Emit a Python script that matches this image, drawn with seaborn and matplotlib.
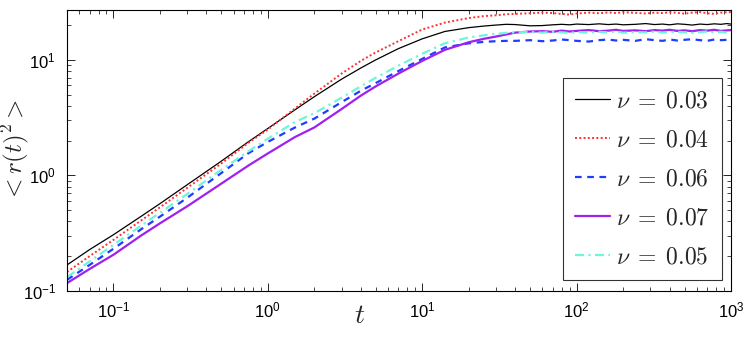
import matplotlib
matplotlib.use("Agg")
import matplotlib.pyplot as plt
import seaborn as sns
import pandas as pd

t = [0.05, 0.07, 0.1, 0.15, 0.2, 0.3, 0.5, 0.75, 1.0, 1.5, 2.0, 3.0, 4.0, 5.0, 7.0,
     10, 14, 20, 25, 30, 35, 40, 50, 60, 70, 80, 90, 100, 120, 140, 160, 180, 200,
     240, 280, 320, 360, 400, 450, 500, 560, 630, 700, 780, 860, 940, 1000]

nu_003 = [0.168, 0.228, 0.307, 0.44, 0.57, 0.83, 1.33, 1.96, 2.55, 3.7, 4.8, 6.8, 8.5, 10.0, 12.5,
          15.2, 17.6, 19.0, 19.6, 20.0, 20.3, 20.2, 19.7, 19.8, 20.1, 20.3, 20.1, 20.4, 20.2, 20.5, 20.2, 20.4, 20.1,
          20.3, 20.6, 20.2, 20.4, 20.1, 20.5, 20.3, 20.0, 20.4, 20.2, 20.5, 20.3, 20.6, 20.4]
nu_004 = [0.146, 0.2, 0.277, 0.405, 0.53, 0.78, 1.27, 1.92, 2.5, 3.8, 5.1, 7.6, 9.8, 11.6, 14.5,
          18.3, 21.0, 23.0, 23.9, 24.3, 24.8, 25.0, 25.3, 25.6, 25.4, 25.0, 24.6, 25.2, 25.6, 25.3, 25.7, 25.4, 25.8,
          25.5, 25.2, 25.6, 25.4, 25.8, 25.5, 25.1, 25.6, 25.9, 25.3, 25.0, 25.6, 25.8, 25.9]
nu_006 = [0.125, 0.168, 0.232, 0.34, 0.44, 0.64, 1.05, 1.56, 1.95, 2.6, 3.1, 4.3, 5.4, 6.3, 8.0,
          10.2, 12.8, 13.9, 14.3, 14.5, 14.6, 14.6, 14.8, 14.5, 14.7, 15.0, 14.8, 14.6, 14.4, 14.8, 15.0, 14.7, 14.9,
          14.6, 15.1, 14.8, 14.6, 15.0, 14.7, 14.9, 15.1, 14.8, 14.6, 15.0, 14.8, 14.9, 15.1]
nu_007 = [0.117, 0.155, 0.206, 0.3, 0.385, 0.54, 0.85, 1.22, 1.55, 2.15, 2.6, 3.75, 4.9, 5.9, 7.6,
          9.8, 12.2, 14.2, 15.2, 15.9, 16.6, 17.2, 17.6, 17.7, 17.5, 17.9, 17.6, 17.8, 18.1, 17.7, 17.9, 18.2, 17.8,
          18.0, 17.7, 18.1, 17.9, 18.2, 17.8, 18.0, 17.7, 18.1, 17.9, 18.2, 17.8, 18.0, 18.1]
nu_005 = [0.132, 0.18, 0.251, 0.365, 0.475, 0.69, 1.12, 1.62, 2.08, 2.9, 3.45, 4.7, 5.9, 7.0, 8.9,
          11.3, 13.9, 15.6, 16.3, 16.8, 17.1, 17.3, 17.4, 17.2, 17.5, 17.3, 17.1, 17.4, 17.2, 17.5, 17.3, 17.6, 17.2,
          17.4, 17.3, 17.6, 17.2, 17.4, 17.5, 17.3, 17.1, 17.4, 17.6, 17.3, 17.5, 17.2, 17.4]

labels = [r"$\nu\;=\;0.03$", r"$\nu\;=\;0.04$", r"$\nu\;=\;0.06$", r"$\nu\;=\;0.07$", r"$\nu\;=\;0.05$"]
series = [nu_003, nu_004, nu_006, nu_007, nu_005]

sns.set_style("ticks")
plt.rcParams["font.family"] = ["Liberation Sans", "DejaVu Sans"]
plt.rcParams["mathtext.fontset"] = "cm"
plt.rcParams["xtick.direction"] = "in"
plt.rcParams["ytick.direction"] = "in"

styles = [
    dict(color="black", linestyle="-", linewidth=0.9),
    dict(color="#ff3030", linestyle=(0, (1, 1.2)), linewidth=1.4),
    dict(color="#1f3cff", linestyle=(0, (3, 2.5)), linewidth=1.6),
    dict(color="#a020f0", linestyle="-", linewidth=1.6),
    dict(color="#6ff5d8", linestyle=(0, (4, 2, 1, 2)), linewidth=1.6),
]

frames = []
for lab, vals in zip(labels, series):
    frames.append(pd.DataFrame({"t": t, "msd": vals, "nu": lab}))
df = pd.concat(frames, ignore_index=True)

fig = plt.figure(figsize=(7.47, 3.4), dpi=100)
ax = fig.add_axes([67 / 747, 1 - 291 / 340, 664 / 747, 281 / 340])

for lab, st in zip(labels, styles):
    sub = df[df["nu"] == lab]
    sns.lineplot(data=sub, x="t", y="msd", ax=ax, label=lab, **st)

ax.set_xscale("log")
ax.set_yscale("log")
ax.set_xlim(0.05, 1000)
ax.set_ylim(0.1, 27)

for s in ax.spines.values():
    s.set_visible(True)
    s.set_linewidth(0.8)
    s.set_color("black")

ax.tick_params(which="both", top=True, right=True, direction="in", labelsize=12, colors="black")
ax.tick_params(which="major", length=6, width=0.6)
ax.tick_params(which="minor", length=3, width=0.5)
ax.tick_params(axis="x", which="major", pad=7)
ax.tick_params(axis="y", which="major", pad=8)

ax.set_xlabel(r"$t$", fontsize=20)
ax.set_ylabel(r"$<r(t)^2>$", fontsize=18)
ax.xaxis.set_label_coords((360 - 67) / 664, (291 - 303) / 281)
ax.yaxis.set_label_coords((31 - 67) / 664, 0.5)

leg = ax.legend(loc="lower left", bbox_to_anchor=((563 - 67) / 664, (291 - 280) / 281, 159 / 664, 0.5),
                mode="expand", borderaxespad=0,
                fontsize=17, handlelength=1.5, handletextpad=0.25, labelspacing=0.72,
                borderpad=0.5, frameon=True, fancybox=False, edgecolor="black")
leg.get_frame().set_linewidth(0.8)

fig.savefig("out.png", dpi=100)
